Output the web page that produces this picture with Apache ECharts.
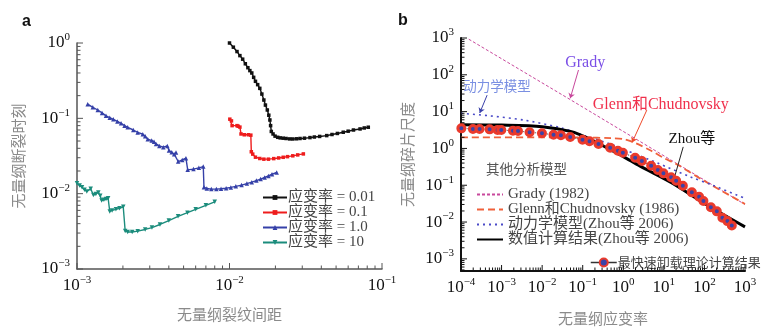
<!DOCTYPE html>
<html>
<head>
<meta charset="utf-8">
<script src="https://cdn.jsdelivr.net/npm/echarts@6/dist/echarts.min.js"></script>
<style>
  html, body { margin: 0; padding: 0; background: #fff; }
  #chart { width: 765px; height: 332px; }
</style>
</head>
<body>
<div id="chart"></div>
<script>
// ---- panel a: 无量纲裂纹间距 / 无量纲断裂时刻 ----
const rateNames = ['应变率 = 0.01', '应变率 = 0.1', '应变率 = 1.0', '应变率 = 10']
const rateColors = ['#111111', '#ee1c1c', '#3540a8', '#1b8c7c']
const rate001 = [[0.0100, 1.0], [0.0106, 0.88], [0.0112, 0.77], [0.0117, 0.68], [0.0122, 0.61], [0.0127, 0.53],
  [0.0132, 0.47], [0.0136, 0.43], [0.0140, 0.40], [0.0144, 0.35], [0.0148, 0.31], [0.0153, 0.28], [0.0158, 0.25],
  [0.0163, 0.21], [0.0168, 0.175], [0.0172, 0.15], [0.0177, 0.129], [0.0181, 0.11], [0.0184, 0.095], [0.0186, 0.08],
  [0.0188, 0.067], [0.0193, 0.062], [0.0199, 0.058], [0.0207, 0.056], [0.0215, 0.055], [0.0225, 0.0545],
  [0.0235, 0.054], [0.0248, 0.0533], [0.026, 0.0532], [0.0275, 0.0535], [0.029, 0.054], [0.031, 0.0545],
  [0.0337, 0.0555], [0.036, 0.0565], [0.039, 0.0575], [0.0434, 0.059], [0.047, 0.061], [0.051, 0.063],
  [0.0557, 0.0654], [0.06, 0.0675], [0.065, 0.070], [0.0718, 0.0723], [0.0765, 0.0745], [0.0813, 0.0762]]
const rate01 = [[0.01005, 0.0975], [0.0103, 0.0925], [0.0104, 0.080], [0.0112, 0.080], [0.0114, 0.0785],
  [0.0117, 0.0765], [0.0119, 0.062], [0.0125, 0.0605], [0.0133, 0.0605], [0.0138, 0.0598], [0.0139, 0.036],
  [0.0142, 0.0335], [0.0148, 0.0305], [0.0158, 0.0293], [0.0168, 0.0287], [0.018, 0.0287], [0.0195, 0.0292],
  [0.021, 0.0298], [0.0225, 0.0304], [0.024, 0.031], [0.026, 0.0318], [0.028, 0.0327], [0.0305, 0.0337]]
const rate1 = [[0.001175, 0.154], [0.00127, 0.140], [0.001368, 0.129], [0.00146, 0.118], [0.001549, 0.108],
  [0.00164, 0.102], [0.00173, 0.097], [0.00184, 0.091], [0.001945, 0.086], [0.00205, 0.080], [0.00215, 0.076],
  [0.00234, 0.070], [0.0025, 0.065], [0.0027, 0.0615], [0.0028, 0.058], [0.00291, 0.0528], [0.00309, 0.0506],
  [0.0032, 0.049], [0.0033, 0.0457], [0.00347, 0.043], [0.00368, 0.0414], [0.00391, 0.043], [0.00401, 0.0373],
  [0.00418, 0.0355], [0.00434, 0.0334], [0.00446, 0.0351], [0.00461, 0.0267], [0.0049, 0.028], [0.00518, 0.0296],
  [0.00532, 0.0207], [0.0058, 0.0212], [0.0063, 0.022], [0.00673, 0.0229], [0.0068, 0.0122], [0.0071, 0.0117],
  [0.0076, 0.0115], [0.0082, 0.0115], [0.0088, 0.0116], [0.0095, 0.0118], [0.0102, 0.0121], [0.011, 0.0125],
  [0.012, 0.013], [0.013, 0.0136], [0.014, 0.0142], [0.015, 0.0149], [0.016, 0.0156], [0.017, 0.0164],
  [0.018, 0.0172], [0.019, 0.0181], [0.0204, 0.0191]]
const rate10 = [[0.001, 0.0138], [0.00104, 0.0128], [0.001078, 0.0122], [0.00112, 0.0113], [0.00116, 0.0107],
  [0.00123, 0.0116], [0.00128, 0.0096], [0.00133, 0.0099], [0.00138, 0.0104], [0.00142, 0.0094], [0.00145, 0.0081],
  [0.0015, 0.0083], [0.00155, 0.0085], [0.0016, 0.0087], [0.00164, 0.0058], [0.0017, 0.006], [0.0018, 0.0062],
  [0.0019, 0.0064], [0.00201, 0.0067], [0.00207, 0.0032], [0.00215, 0.0031], [0.0023, 0.0031], [0.0025, 0.00318],
  [0.0028, 0.00335], [0.0031, 0.00355], [0.0035, 0.0039], [0.004, 0.0044], [0.0046, 0.005], [0.0053, 0.0056],
  [0.006, 0.0062], [0.007, 0.007], [0.008, 0.0078]]

// ---- panel b: 无量纲应变率 / 无量纲碎片尺度 ----
const modelNames = ['Grady (1982)', 'Glenn和Chudnovsky (1986)', '动力学模型(Zhou等 2006)', '数值计算结果(Zhou等 2006)']
const fastName = '最快速卸载理论计算结果'
const grady = [[1.55e-4, 930], [0.05, 21], [1000, 0.03]]
const glenn = [[1e-4, 2.0], [0.01, 2.0], [0.1, 1.98], [0.5, 1.9], [1, 1.8], [2, 1.4], [5, 0.85], [10, 0.55],
  [20, 0.38], [100, 0.13], [1000, 0.031]]
const dynamic = [[1e-4, 9], [5e-4, 7.7], [3.5e-3, 5.9], [0.03, 3.6], [0.1, 2.3], [0.5, 1.3], [1, 0.95],
  [7, 0.4], [44, 0.17], [160, 0.1], [1000, 0.044]]
const numeric = [[1e-4, 4.4], [1e-3, 4.3], [0.01, 3.9], [0.05, 2.9], [0.15, 1.8], [0.5, 0.9], [1, 0.6],
  [2.6, 0.33], [17, 0.11], [115, 0.029], [1000, 0.0074]]
const fastUnload = [[1.02e-4, 3.51], [1.97e-4, 3.37], [2.87e-4, 3.37], [5.07e-4, 3.30], [7.98e-4, 3.16],
  [9.84e-4, 3.16], [1.91e-3, 3.03], [2.54e-3, 2.97], [4.9e-3, 2.74], [9.9e-3, 2.57], [0.0191, 2.35],
  [0.029, 2.27], [0.0492, 2.04], [0.0989, 1.72], [0.147, 1.56], [0.245, 1.32], [0.475, 1.05], [0.736, 0.867],
  [0.977, 0.764], [1.96, 0.558], [2.87, 0.455], [4.86, 0.339], [7.11, 0.259], [9.77, 0.21], [15.1, 0.164],
  [20.1, 0.133], [29.4, 0.0969], [49, 0.0641], [74, 0.0487], [94.5, 0.0372], [144, 0.0251], [202, 0.0195],
  [277, 0.0131], [369, 0.0106], [473, 0.0081]]

// annotations (data coordinates)
const noteText = ['Grady', '动力学模型', 'Glenn和Chudnovsky', 'Zhou等']
const noteColor = ['#7a4ee6', '#7a8fe2', '#f0304c', '#111111']
const noteLine = ['#c8489c', '#3a40a8', '#f04a2a', '#222222']
const notePos = [[0.115, 213], [7.7e-4, 45], [8.4, 15], [49, 1.77]]
const noteArrow = [[[0.0787, 135], [0.0492, 23]], [[4.4e-4, 28], [2.9e-4, 9.2]],
  [[3.8, 11], [1.65, 1.45]], [[30, 1.1], [17, 0.125]]]

const serif = "'Liberation Serif', 'Noto Sans CJK SC', serif"
const cjk = "'Noto Sans CJK SC', sans-serif"

function lg(pairs) {
  return pairs.map(p => [Math.log10(p[0]), Math.log10(p[1])])
}
function range(a, b) {
  const r = []
  for (let i = a; i <= b; i++) r.push(i)
  return r
}
function minors(a, b) {
  const r = []
  for (let n = a; n < b; n++) for (let k = 2; k < 10; k++) r.push(n + Math.log10(k))
  return r
}
function powLabel(v) {
  const e = Math.round(v)
  return '{b|10}{s|' + (e < 0 ? '\u2212' + (-e) : e) + '}'
}
const rich = {
  b: { fontFamily: serif, fontSize: 17, color: '#111', lineHeight: 22 },
  s: { fontFamily: serif, fontSize: 11, color: '#111', lineHeight: 10, verticalAlign: 'top' }
}

function mainAxis(grid, pos, min, max, color, width, name, gap) {
  return {
    type: 'value', gridIndex: grid, position: pos, min: min, max: max,
    axisLine: { show: true, onZero: false, lineStyle: { color: color, width: width } },
    splitLine: { show: false }, axisTick: { show: false },
    axisLabel: { customValues: range(Math.ceil(min), Math.floor(max)), formatter: powLabel, rich: rich, margin: pos === 'left' ? 7 : 6 },
    name: name, nameLocation: 'middle', nameGap: gap,
    nameTextStyle: { fontFamily: cjk, fontSize: 15, color: '#8a8a8a' }
  }
}

// log-decade ticks (major at 10^n, minor at k*10^n) drawn inward from the axis line
function tickSeries(axisIdx, dim, min, max, edge, color) {
  const major = range(Math.ceil(min), Math.floor(max)).map(v => [v, 6])
  const minor = minors(Math.floor(min), Math.ceil(max)).filter(v => v >= min && v <= max).map(v => [v, 3.5])
  return {
    type: 'custom', xAxisIndex: axisIdx, yAxisIndex: axisIdx, silent: true, clip: false, z: 6,
    data: major.concat(minor).map(t => dim === 'x' ? [t[0], edge, t[1]] : [edge, t[0], t[1]]),
    renderItem: function (params, api) {
      const p = api.coord([api.value(0), api.value(1)])
      const len = api.value(2)
      const shape = dim === 'x'
        ? { x1: p[0], y1: p[1], x2: p[0], y2: p[1] - len }
        : { x1: p[0], y1: p[1], x2: p[0] + len, y2: p[1] }
      return { type: 'line', shape: shape, style: { stroke: color, lineWidth: 1 } }
    }
  }
}

const rateData = [rate001, rate01, rate1, rate10]
const rateSymbols = ['rect', 'rect', 'triangle', 'triangle']
const seriesA = rateData.map((d, i) => ({
  name: rateNames[i], type: 'line', xAxisIndex: 0, yAxisIndex: 0,
  data: lg(d), symbol: rateSymbols[i], symbolSize: i < 2 ? 3.5 : 4.5, symbolRotate: i === 3 ? 180 : 0,
  lineStyle: { color: rateColors[i], width: 1.4 }, itemStyle: { color: rateColors[i] }
}))

const modelData = [grady, glenn, dynamic, numeric]
const modelColors = ['#c8489c', '#f0603a', '#4a4ac8', '#000000']
const modelDash = [[3, 2], [7, 4], [2, 4], 'solid']
const modelWidth = [1, 1.8, 1.6, 3]
const seriesB = modelData.map((d, i) => ({
  name: modelNames[i], type: 'line', xAxisIndex: 1, yAxisIndex: 1,
  data: lg(d), symbol: 'none', smooth: i > 0 ? 0.3 : false, z: 2 + i,
  lineStyle: { color: modelColors[i], width: modelWidth[i], type: modelDash[i] },
  itemStyle: { color: modelColors[i] }
}))

// annotation texts and arrows drawn in data coordinates
const notes = {
  name: 'notes', type: 'line', xAxisIndex: 1, yAxisIndex: 1, data: [], silent: true,
  markPoint: {
    silent: true, symbol: 'rect', symbolSize: 1, itemStyle: { color: 'rgba(0,0,0,0)' },
    data: notePos.map((p, i) => ({
      coord: [Math.log10(p[0]), Math.log10(p[1])],
      label: { show: true, position: 'inside', formatter: noteText[i], color: noteColor[i],
        fontFamily: serif, fontSize: i === 1 ? 13.5 : (i === 3 ? 15 : 16) }
    }))
  },
  markLine: {
    silent: true, animation: false, label: { show: false },
    data: noteArrow.map((a, i) => [
      { coord: [Math.log10(a[0][0]), Math.log10(a[0][1])], symbol: 'none',
        lineStyle: { color: noteLine[i], width: 1, type: 'solid' } },
      { coord: [Math.log10(a[1][0]), Math.log10(a[1][1])], symbol: i === 3 ? 'none' : 'arrow', symbolSize: 5 }
    ])
  }
}

const fastSeries = {
  name: fastName, type: 'line', xAxisIndex: 1, yAxisIndex: 1, data: lg(fastUnload), z: 10,
  symbol: 'circle', symbolSize: 7,
  lineStyle: { color: '#444', width: 1, type: 'dotted' },
  itemStyle: { color: '#3b44a8', borderColor: '#ea3a2c', borderWidth: 3 }
}

const ticks = [
  tickSeries(0, 'x', -3, -1, -3, '#555'),
  tickSeries(0, 'y', -3, 0, -3, '#555'),
  tickSeries(1, 'x', -4, 3, -3.33, '#111'),
  tickSeries(1, 'y', -3.33, 3, -4, '#111')
]

const chart = echarts.init(document.getElementById('chart'))
chart.setOption({
  animation: false,
  backgroundColor: '#fff',
  grid: [
    { left: 77, top: 43, width: 305, height: 226 },
    { left: 461, top: 38, width: 284, height: 233 }
  ],
  xAxis: [
    mainAxis(0, 'bottom', -3, -1, '#555', 1.5, '无量纲裂纹间距', 38),
    mainAxis(1, 'bottom', -4, 3, '#111', 2, '无量纲应变率', 40)
  ],
  yAxis: [
    mainAxis(0, 'left', -3, 0, '#555', 1.5, '无量纲断裂时刻', 51),
    mainAxis(1, 'left', -3.33, 3, '#111', 2, '无量纲碎片尺度', 46)
  ],
  legend: [
    {
      data: rateNames, orient: 'vertical', left: 257, top: 185, itemWidth: 24, itemHeight: 6, itemGap: 0,
      selectedMode: false, textStyle: { fontFamily: serif, fontSize: 15, color: '#444', height: 15, lineHeight: 15, padding: [0, 0, 0, -4] }
    },
    {
      data: modelNames, orient: 'vertical', left: 471, top: 182, itemWidth: 26, itemHeight: 6, itemGap: 0,
      selectedMode: false, itemStyle: { opacity: 0 },
      textStyle: { fontFamily: serif, fontSize: 15, color: '#444', height: 13.3, lineHeight: 13.3 }
    },
    {
      data: [fastName], left: 585, top: 251, itemWidth: 26, itemHeight: 10, selectedMode: false,
      lineStyle: { type: 'solid', color: '#333', width: 1.5 },
      textStyle: { fontFamily: cjk, fontSize: 13, color: '#444', padding: [0, 0, 0, -4] }
    }
  ],
  graphic: [
    { type: 'text', left: 22, top: 14, style: { text: 'a', font: 'bold 16px "Liberation Sans"', fill: '#111' } },
    { type: 'text', left: 398, top: 13, style: { text: 'b', font: 'bold 16px "Liberation Sans"', fill: '#111' } },
    { type: 'text', left: 486, top: 162, style: { text: '其他分析模型', font: '13.5px "Noto Sans CJK SC"', fill: '#555' } }
  ],
  series: seriesA.concat(seriesB, [fastSeries, notes], ticks)
})
</script>
</body>
</html>
